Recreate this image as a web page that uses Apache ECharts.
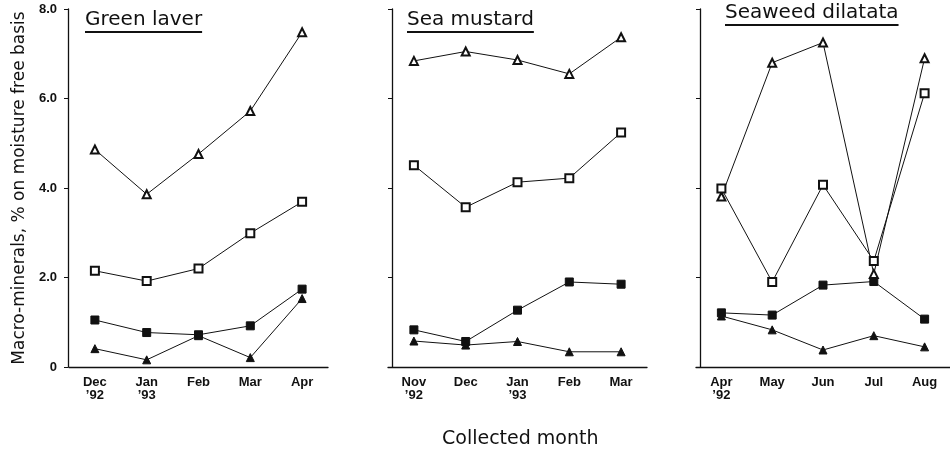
<!DOCTYPE html>
<html><head><meta charset="utf-8">
<script src="https://cdn.jsdelivr.net/npm/echarts@6/dist/echarts.min.js"></script>
<style>html,body{margin:0;padding:0;background:#fff}#c{width:950px;height:451px}</style>
</head><body><div id="c"></div>
<script>
const monthsGreen = ["Dec\n’92", "Jan\n’93", "Feb", "Mar", "Apr"];
const monthsMustard = ["Nov\n’92", "Dec", "Jan\n’93", "Feb", "Mar"];
const monthsDilatata = ["Apr\n’92", "May", "Jun", "Jul", "Aug"];
const yTickLabels = ["0", "2.0", "4.0", "6.0", "8.0"];
const panelTitles = ["Green laver", "Sea mustard", "Seaweed dilatata"];

const greenOpenTri  = [4.86, 3.86, 4.76, 5.72, 7.48];
const greenOpenSq   = [2.15, 1.92, 2.20, 2.99, 3.69];
const greenFillSq   = [1.05, 0.77, 0.72, 0.92, 1.74];
const greenFillTri  = [0.41, 0.16, 0.70, 0.21, 1.53];

const mustardOpenTri = [6.84, 7.05, 6.86, 6.55, 7.37];
const mustardOpenSq  = [4.51, 3.57, 4.13, 4.22, 5.24];
const mustardFillSq  = [0.83, 0.57, 1.27, 1.90, 1.85];
const mustardFillTri = [0.58, 0.49, 0.57, 0.34, 0.34];

const dilatataOpenTri = [3.81, 6.80, 7.25, 2.08, 6.90];
const dilatataOpenSq  = [3.99, 1.90, 4.07, 2.37, 6.12];
const dilatataFillSq  = [1.21, 1.16, 1.83, 1.91, 1.07];
const dilatataFillTri = [1.14, 0.83, 0.38, 0.70, 0.45];

const panels = [
  {cats: monthsGreen, data: [greenOpenTri, greenOpenSq, greenFillSq, greenFillTri]},
  {cats: monthsMustard, data: [mustardOpenTri, mustardOpenSq, mustardFillSq, mustardFillTri]},
  {cats: monthsDilatata, data: [dilatataOpenTri, dilatataOpenSq, dilatataFillSq, dilatataFillTri]}
];
const symbols = ['emptyTriangle', 'emptyRect', 'rect', 'triangle'];
const symSizes = [8, 8, 8, 8];

const gridLefts = [69, 388, 696];
const yOffsets = [1, -4, -4];
const FONT = 'Liberation Sans';
const TFONT = 'DejaVu Sans';
const ink = '#111';

const grids = [], xAxes = [], yAxes = [], series = [];
panels.forEach((p, i) => {
  grids.push({left: gridLefts[i], top: 9, width: 259, height: 358});
  xAxes.push({
    type: 'category', gridIndex: i, data: p.cats, boundaryGap: true,
    axisLine: {lineStyle: {color: ink, width: 1.3}},
    axisTick: {alignWithLabel: true, length: 5, lineStyle: {color: ink}},
    axisLabel: {color: ink, fontFamily: FONT, fontSize: 13, fontWeight: 'bold', margin: 9, lineHeight: 13, interval: 0}
  });
  yAxes.push({
    type: 'value', gridIndex: i, min: 0, max: 8, interval: 2, offset: yOffsets[i],
    splitLine: {show: false},
    axisLine: {show: true, lineStyle: {color: ink, width: 1.3}},
    axisTick: {show: true, length: 4, lineStyle: {color: ink}},
    axisLabel: {show: i === 0, color: ink, fontFamily: FONT, fontSize: 13, fontWeight: 'bold', margin: 11,
      formatter: (v) => yTickLabels[Math.round(v / 2)]},
    name: i === 0 ? 'Macro-minerals, % on moisture free basis' : '',
    nameLocation: 'middle', nameGap: 40, nameRotate: 90,
    nameTextStyle: {color: ink, fontFamily: TFONT, fontSize: 17}
  });
  p.data.forEach((d, k) => {
    series.push({
      type: 'line', xAxisIndex: i, yAxisIndex: i, data: d,
      symbol: symbols[k], symbolSize: symSizes[k], showAllSymbol: true,
      lineStyle: {color: ink, width: 1},
      itemStyle: {color: ink, borderColor: ink, borderWidth: 1},
      animation: false, silent: true
    });
  });
});

const titleX = [85, 407, 725];
const titleTop = [10, 10, 3];
const TSIZE = 20;
const meas = document.createElement('canvas').getContext('2d');
meas.font = TSIZE + 'px "' + TFONT + '"';
const graphic = [];
panelTitles.forEach((t, i) => {
  graphic.push({type: 'text', left: titleX[i], top: titleTop[i],
    style: {text: t, font: TSIZE + 'px "' + TFONT + '"', fill: ink}});
  const w = meas.measureText(t).width;
  const uy = titleTop[i] + 22;
  graphic.push({type: 'line', shape: {x1: titleX[i], y1: uy, x2: titleX[i] + w, y2: uy},
    style: {stroke: ink, lineWidth: 1.8}});
});
graphic.push({type: 'text', left: 442, top: 430,
  style: {text: 'Collected month', font: '19px "' + TFONT + '"', fill: ink}});

const chart = echarts.init(document.getElementById('c'), null, {renderer: 'canvas'});
chart.setOption({
  animation: false,
  grid: grids, xAxis: xAxes, yAxis: yAxes, series: series, graphic: graphic
});
</script></body></html>
